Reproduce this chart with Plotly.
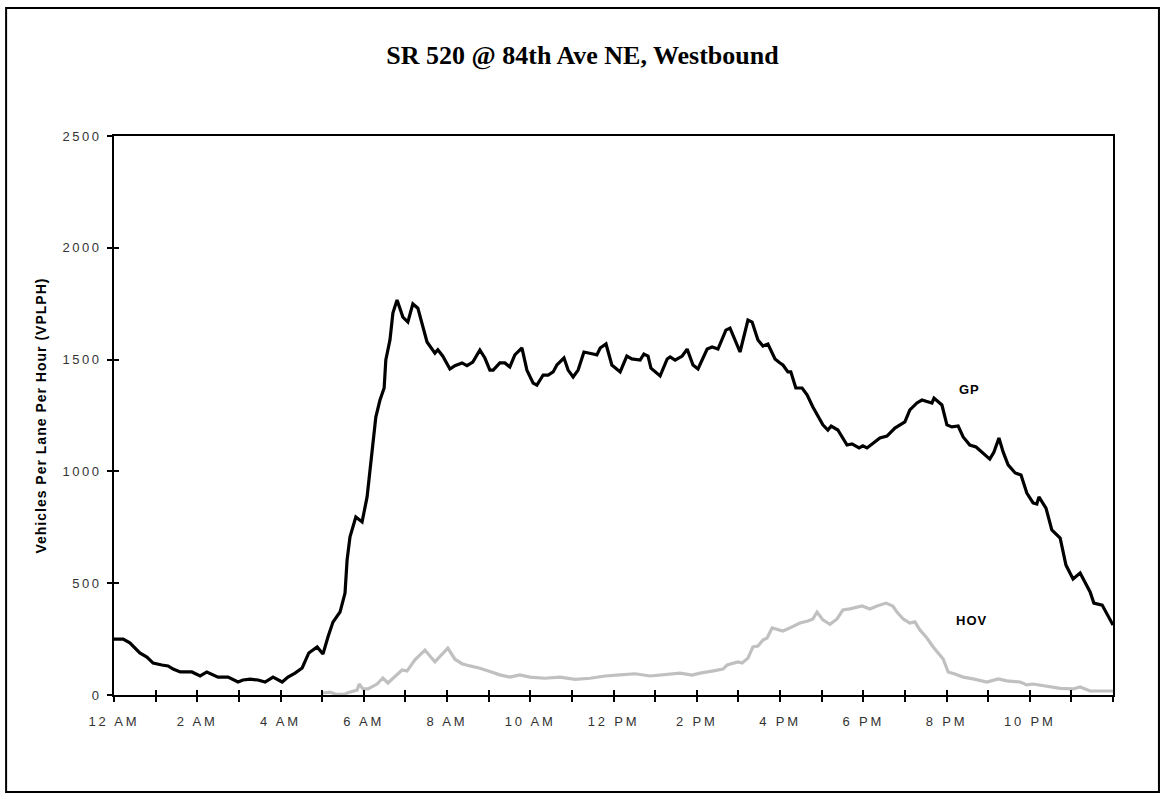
import plotly.graph_objects as go

# GP (general purpose) lanes, hour of day vs vehicles per lane per hour
gp_hour = [0.0, 0.22, 0.38, 0.62, 0.79, 0.94, 1.15, 1.30, 1.42, 1.59, 1.87, 2.07, 2.23, 2.50, 2.74,
           2.98, 3.10, 3.27, 3.46, 3.63, 3.82, 4.04, 4.18, 4.35, 4.52, 4.68, 4.88, 5.02, 5.14, 5.26,
           5.43, 5.55, 5.60, 5.67, 5.81, 5.96, 6.08, 6.20, 6.29, 6.39, 6.49, 6.53, 6.63, 6.70, 6.80,
           6.94, 7.06, 7.18, 7.30, 7.52, 7.71, 7.78, 7.90, 8.07, 8.19, 8.36, 8.48, 8.62, 8.79, 8.91,
           9.03, 9.11, 9.27, 9.39, 9.51, 9.63, 9.80, 9.92, 10.07, 10.16, 10.31, 10.43, 10.55, 10.64,
           10.81, 10.91, 11.03, 11.15, 11.29, 11.51, 11.60, 11.68, 11.82, 11.96, 12.16, 12.32, 12.44,
           12.64, 12.73, 12.83, 12.90, 13.12, 13.29, 13.36, 13.48, 13.65, 13.77, 13.91, 14.03, 14.25,
           14.37, 14.51, 14.70, 14.80, 15.04, 15.23, 15.33, 15.47, 15.59, 15.71, 15.88, 16.00, 16.07,
           16.19, 16.26, 16.38, 16.53, 16.65, 16.79, 17.03, 17.15, 17.23, 17.39, 17.61, 17.73, 17.90,
           17.99, 18.09, 18.40, 18.57, 18.76, 19.00, 19.12, 19.29, 19.41, 19.65, 19.70, 19.89, 20.01,
           20.13, 20.28, 20.40, 20.56, 20.71, 20.85, 21.04, 21.14, 21.26, 21.36, 21.48, 21.65, 21.79,
           21.93, 22.08, 22.17, 22.22, 22.39, 22.53, 22.73, 22.87, 23.04, 23.21, 23.45, 23.54, 23.74,
           23.86, 24.0]
gp_vplph = [250, 250, 233, 188, 170, 143, 134, 130, 116, 103, 103, 85, 103, 80, 80,
            58, 67, 71, 67, 58, 80, 58, 80, 98, 121, 188, 215, 183, 259, 326,
            371, 456, 604, 707, 796, 774, 886, 1082, 1243, 1319, 1373, 1498, 1588, 1708, 1767,
            1690, 1668, 1749, 1730, 1579, 1529, 1544, 1515, 1458, 1473, 1485, 1473, 1489, 1543, 1507,
            1453, 1453, 1485, 1485, 1467, 1521, 1552, 1453, 1395, 1386, 1431, 1431, 1445, 1476,
            1507, 1453, 1422, 1453, 1534, 1525, 1521, 1552, 1570, 1476, 1445, 1516, 1503,
            1498, 1525, 1516, 1462, 1427, 1503, 1512, 1498, 1516, 1547, 1476, 1458, 1547,
            1556, 1547, 1632, 1641, 1534, 1677, 1668, 1588, 1561, 1570, 1503, 1485, 1476,
            1445, 1445, 1373, 1373, 1342, 1288, 1208, 1185, 1203, 1185, 1118, 1123, 1105,
            1114, 1105, 1149, 1158, 1194, 1221, 1275, 1306, 1319, 1306, 1328, 1297, 1208,
            1199, 1203, 1154, 1118, 1109, 1087, 1055, 1087, 1149, 1087, 1029, 993, 984,
            903, 859, 854, 886, 836, 738, 702, 581, 519, 546, 461, 411, 402,
            358, 313]

# HOV lanes
hov_hour = [5.02, 5.19, 5.33, 5.55, 5.60, 5.84, 5.89, 5.98, 6.10, 6.32, 6.46, 6.58, 6.92, 7.04,
            7.23, 7.47, 7.71, 8.02, 8.19, 8.36, 8.55, 8.79, 9.03, 9.27, 9.51, 9.75, 9.99, 10.35,
            10.71, 11.08, 11.44, 11.80, 12.16, 12.52, 12.88, 13.24, 13.60, 13.89, 14.08, 14.37,
            14.63, 14.73, 14.99, 15.09, 15.23, 15.35, 15.47, 15.59, 15.69, 15.81, 15.93, 16.07,
            16.24, 16.48, 16.67, 16.79, 16.89, 17.03, 17.20, 17.37, 17.51, 17.68, 17.97, 18.16,
            18.33, 18.55, 18.71, 18.81, 18.96, 19.12, 19.24, 19.36, 19.53, 19.68, 19.92, 20.04,
            20.20, 20.40, 20.64, 20.97, 21.24, 21.45, 21.77, 21.93, 22.08, 22.41, 22.73, 23.04,
            23.21, 23.45, 24.0]
hov_vplph = [9, 13, 3, 3, 9, 22, 49, 27, 27, 49, 76, 54, 112, 107,
             157, 201, 148, 210, 160, 140, 130, 120, 105, 90, 80, 90, 80, 75,
             80, 70, 75, 85, 90, 95, 85, 90, 98, 89, 98, 107,
             116, 134, 148, 143, 165, 215, 219, 246, 255, 300, 295, 286,
             300, 322, 331, 340, 371, 336, 316, 340, 380, 385, 398, 385,
             398, 411, 398, 371, 340, 322, 327, 291, 255, 215, 161, 103,
             94, 80, 72, 58, 72, 63, 58, 45, 49, 40, 30, 27,
             36, 18, 18]

hour_ticks = list(range(25))
hour_labels = ["12 AM", "", "2 AM", "", "4 AM", "", "6 AM", "", "8 AM", "", "10 AM", "",
               "12 PM", "", "2 PM", "", "4 PM", "", "6 PM", "", "8 PM", "", "10 PM", "", ""]
vplph_ticks = [0, 500, 1000, 1500, 2000, 2500]


def spaced(s, px):
    # Excel-style letter spacing on the axis text
    return '<span style="letter-spacing:%spx">%s</span>' % (px, s) if s else ""


fig = go.Figure()
fig.add_trace(go.Scatter(x=gp_hour, y=gp_vplph, mode="lines", name="GP",
                         line=dict(color="black", width=3.2)))
fig.add_trace(go.Scatter(x=hov_hour, y=hov_vplph, mode="lines", name="HOV",
                         line=dict(color="#c0c0c0", width=3.2)))
# empty trace so the overlay axes (inside half of the crossing ticks) get drawn
fig.add_trace(go.Scatter(x=[], y=[], xaxis="x2", yaxis="y2", showlegend=False))

tick_font = dict(family="Liberation Sans, Arial", size=13, color="#333")

fig.update_layout(
    width=1165, height=799,
    paper_bgcolor="white", plot_bgcolor="white",
    margin=dict(l=114, r=52, t=136, b=104),
    showlegend=False,
    title=dict(text="<b>SR 520 @ 84th Ave NE, Westbound</b>",
               font=dict(family="Liberation Serif, Times New Roman", size=26, color="black"),
               x=0.5, xref="container", xanchor="center",
               y=1 - 55 / 799, yref="container", yanchor="middle"),
    xaxis=dict(range=[0, 24], tickvals=hour_ticks,
               ticktext=[spaced(t, 2.8) for t in hour_labels],
               ticks="outside", ticklen=5, tickwidth=2, tickcolor="black", ticklabelstandoff=8,
               showline=True, linewidth=2, linecolor="black", mirror=True,
               showgrid=False, zeroline=False, tickfont=tick_font, tickangle=0),
    yaxis=dict(range=[0, 2500], tickvals=vplph_ticks,
               ticktext=[spaced(str(v), 2.5) for v in vplph_ticks],
               ticks="outside", ticklen=5, tickwidth=2, tickcolor="black", ticklabelstandoff=3,
               showline=True, linewidth=2, linecolor="black", mirror=True,
               showgrid=False, zeroline=False, tickfont=tick_font),
    xaxis2=dict(range=[0, 24], overlaying="x", tickvals=hour_ticks,
                ticks="inside", ticklen=5, tickwidth=2, tickcolor="black",
                showticklabels=False, showline=False, showgrid=False, zeroline=False),
    yaxis2=dict(range=[0, 2500], overlaying="y", tickvals=vplph_ticks,
                ticks="inside", ticklen=5, tickwidth=2, tickcolor="black",
                showticklabels=False, showline=False, showgrid=False, zeroline=False),
)

label_font = dict(family="Liberation Sans, Arial", size=13, color="black")
fig.add_annotation(text='<b><span style="letter-spacing:1px">Vehicles Per Lane Per Hour (VPLPH)</span></b>',
                   textangle=-90, x=-0.074, y=0.5, xref="paper", yref="paper",
                   xanchor="center", yanchor="middle", showarrow=False,
                   font=dict(family="Liberation Sans, Arial", size=14, color="black"))
fig.add_annotation(text='<b><span style="letter-spacing:1px">GP</span></b>',
                   x=20.56, y=1368, showarrow=False, font=label_font)
fig.add_annotation(text='<b><span style="letter-spacing:1px">HOV</span></b>',
                   x=20.61, y=331, showarrow=False, font=label_font)

# outer chart frame
fig.add_shape(type="rect", xref="paper", yref="paper",
              x0=-0.108, x1=1.046, y0=-0.1735, y1=1.229,
              line=dict(color="black", width=2), fillcolor="rgba(0,0,0,0)")

fig.write_html("out.html", config={"displayModeBar": False},
               post_script="document.body.style.margin='0';")
